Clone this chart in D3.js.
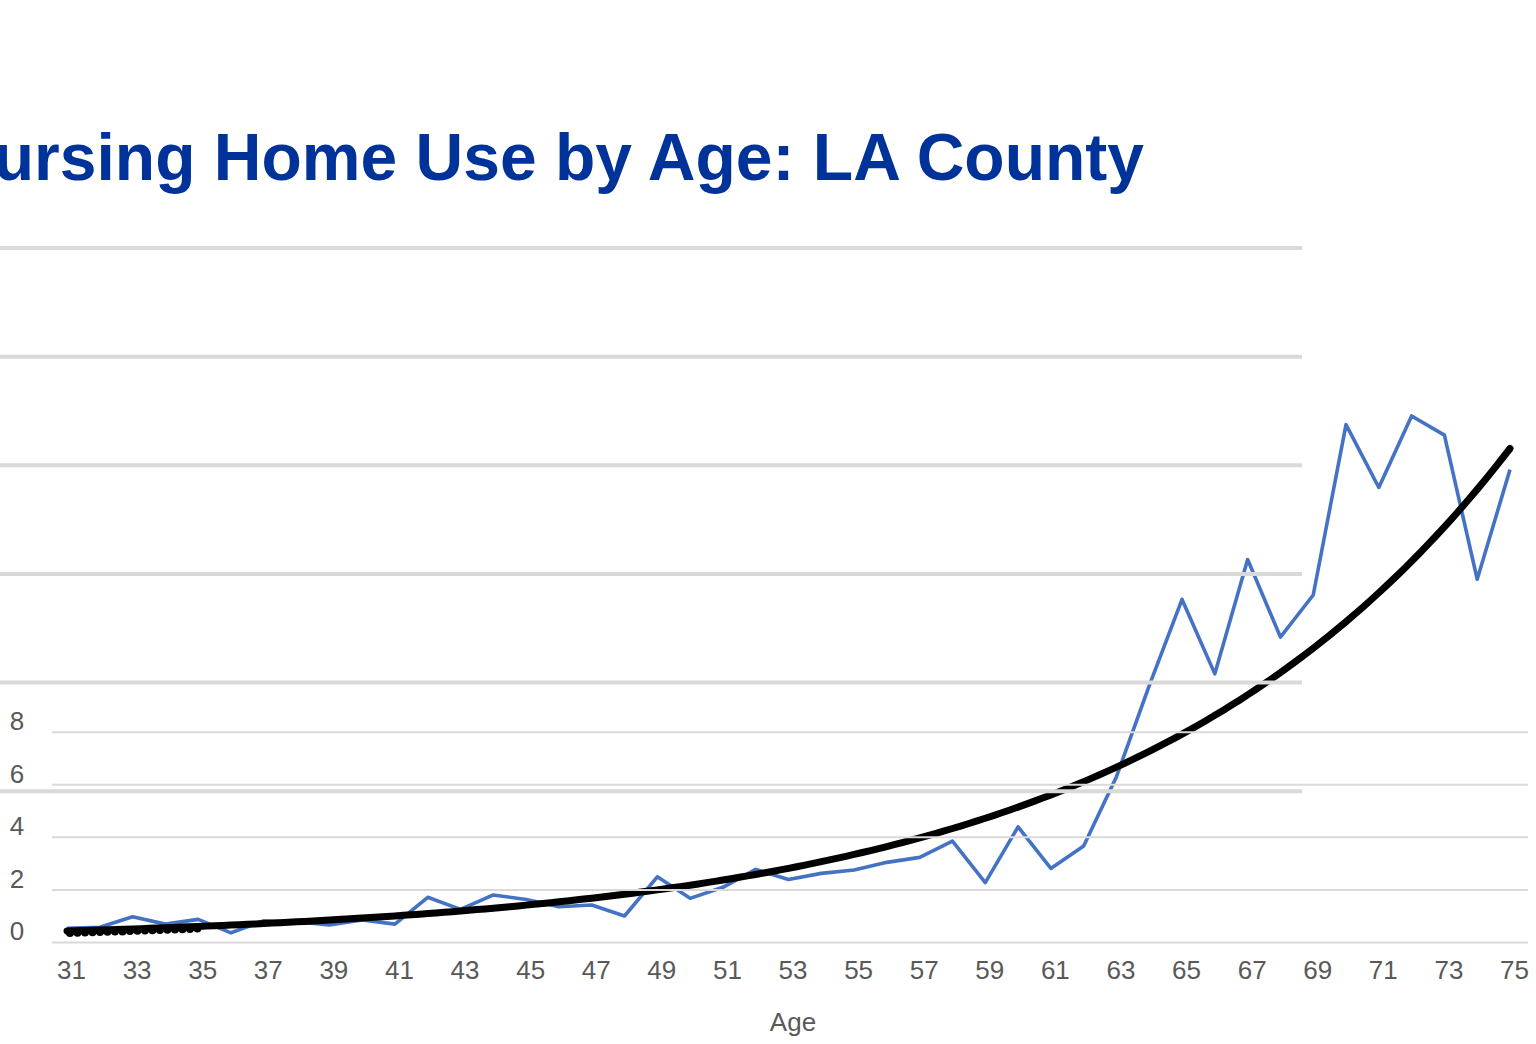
<!DOCTYPE html>
<html>
<head>
<meta charset="utf-8">
<style>
body {
  margin: 0;
  background: #fff;
  font-family: "Liberation Sans", Arial, sans-serif;
}
.title { font-weight: bold; fill: #003399; }
.tick text { fill: #595959; }
</style>
</head>
<body>
<script src="https://cdnjs.cloudflare.com/ajax/libs/d3/7.8.5/d3.min.js"></script>
<script>
// nursing home use (per 1,000), ages 31..75
var ages = d3.range(31, 76);
var useRate = [0.52, 0.56, 0.96, 0.68, 0.86, 0.35, 0.81, 0.77, 0.65, 0.84,
               0.68, 1.70, 1.24, 1.79, 1.62, 1.34, 1.41, 0.99, 2.48, 1.66,
               2.08, 2.76, 2.38, 2.61, 2.74, 3.03, 3.22, 3.84, 2.26, 4.38,
               2.80, 3.65, 6.29, 9.75, 13.03, 10.2, 14.55, 11.6, 13.2, 19.68,
               17.29, 20.01, 19.28, 13.8, 17.97];
var ageTicks = d3.range(31, 76, 2);
var yTicks = [0, 2, 4, 6, 8];
var backTicks = [0, 1, 2, 3, 4, 5];   // gridlines left over from the slide behind
var titleText = "ursing Home Use by Age: LA County";
var xTitle = "Age";

var W = 1536, H = 1044;

var svg = d3.select("body").append("svg")
    .attr("width", W)
    .attr("height", H);

var x = d3.scaleLinear().domain([31, 75]).range([67, 1510]);
var y = d3.scaleLinear().domain([0, 8]).range([942, 731.7]);
var yBack = d3.scaleLinear().domain([0, 5]).range([790.7, 247.5]);

var data = ages.map(function(a, i) { return {age: a, v: useRate[i]}; });

// exponential trendline, least squares on ln(v) like Excel
var lx = d3.mean(data, function(d) { return d.age; }),
    ly = d3.mean(data, function(d) { return Math.log(d.v); });
var sxy = d3.sum(data, function(d) { return (d.age - lx) * (Math.log(d.v) - ly); }),
    sxx = d3.sum(data, function(d) { return (d.age - lx) * (d.age - lx); });
var b = sxy / sxx, lnA = ly - b * lx;
var trend = d3.range(31, 75.01, 0.25).map(function(a) {
  return {age: a, v: Math.exp(lnA + b * a)};
});

var line = d3.line()
    .x(function(d) { return x(d.age); })
    .y(function(d) { return y(d.v); });

// title
svg.append("text")
    .attr("class", "title")
    .attr("x", 1144)
    .attr("y", 180)
    .attr("text-anchor", "end")
    .style("font-size", "66px")
    .text(titleText);

// data line + trend
svg.append("path")
    .datum(data)
    .attr("d", line)
    .attr("fill", "none")
    .attr("stroke", "#4472c4")
    .attr("stroke-width", 3.6)
    .attr("stroke-linejoin", "round");

svg.append("path")
    .datum(trend)
    .attr("d", line)
    .attr("fill", "none")
    .attr("stroke", "#000")
    .attr("stroke-width", 7)
    .attr("stroke-linecap", "round");

// the start of the trendline shows as a row of dots
svg.append("path")
    .datum(trend.filter(function(d) { return d.age <= 35; }))
    .attr("d", line)
    .attr("fill", "none")
    .attr("stroke", "#000")
    .attr("stroke-width", 8)
    .attr("stroke-linecap", "round")
    .attr("stroke-dasharray", "0 7.5")
    .attr("transform", "translate(3,2)");

// thin gridlines (0..8), drawn over the lines as in the picture
svg.append("g")
    .attr("transform", "translate(52,0)")
    .call(d3.axisRight(y).tickValues(yTicks).tickSize(1528 - 52).tickFormat(""))
    .call(function(g) {
      g.select(".domain").remove();
      g.selectAll(".tick line").attr("stroke", "#d9d9d9").attr("stroke-width", 2);
    });

// thick gridlines from the background chart
svg.append("g")
    .call(d3.axisRight(yBack).tickValues(backTicks).tickSize(1302).tickFormat(""))
    .call(function(g) {
      g.select(".domain").remove();
      g.selectAll(".tick line").attr("stroke", "#d9d9d9").attr("stroke-width", 4);
    });

// y labels
svg.append("g")
    .attr("transform", "translate(17,0)")
    .call(d3.axisLeft(y).tickValues(yTicks).tickSize(0).tickPadding(0))
    .call(function(g) {
      g.select(".domain").remove();
      g.selectAll(".tick text")
          .attr("text-anchor", "middle")
          .attr("x", 0)
          .attr("dy", "-0.08em")
          .style("font-size", "26px");
    });

// x labels
svg.append("g")
    .attr("transform", "translate(4,961)")
    .call(d3.axisBottom(x).tickValues(ageTicks).tickSize(0).tickPadding(0))
    .call(function(g) {
      g.select(".domain").remove();
      g.selectAll(".tick text").style("font-size", "26px");
    });

svg.append("text")
    .attr("x", 793)
    .attr("y", 1031)
    .attr("text-anchor", "middle")
    .style("font-size", "26px")
    .style("fill", "#595959")
    .text(xTitle);
</script>
</body>
</html>
